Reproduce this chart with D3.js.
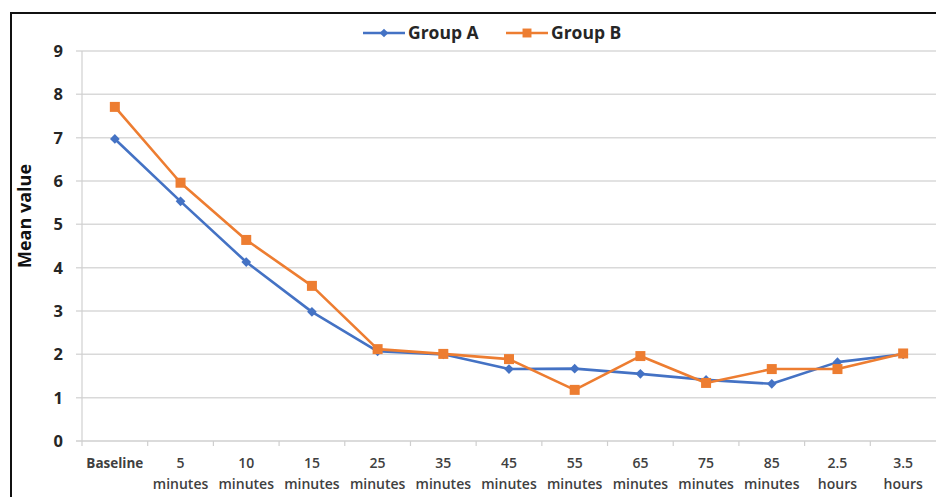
<!DOCTYPE html>
<html>
<head>
<meta charset="utf-8">
<script src="https://cdn.jsdelivr.net/npm/d3@7"></script>
<style>
  body { margin: 0; background: #fff; }
  svg { display: block; }
</style>
</head>
<body>
<figure style="margin:0"></figure>
<script>
const categories = [
  ["Baseline"], ["5", "minutes"], ["10", "minutes"], ["15", "minutes"],
  ["25", "minutes"], ["35", "minutes"], ["45", "minutes"], ["55", "minutes"],
  ["65", "minutes"], ["75", "minutes"], ["85", "minutes"], ["2.5", "hours"],
  ["3.5", "hours"],
];
const groupA = [6.97, 5.53, 4.13, 2.98, 2.07, 2.0, 1.66, 1.67, 1.55, 1.41, 1.32, 1.82, 2.0];
const groupB = [7.71, 5.96, 4.64, 3.58, 2.12, 2.01, 1.89, 1.18, 1.96, 1.34, 1.66, 1.66, 2.02];
const yTicks = [0, 1, 2, 3, 4, 5, 6, 7, 8, 9];

const series = [
  { name: "Group A", values: groupA, color: "#4472C4", marker: d3.symbolDiamond2, size: 60 },
  { name: "Group B", values: groupB, color: "#ED7D31", marker: d3.symbolSquare, size: 100 },
];

const width = 936;
const height = 497;
const font = "'Open Sans', sans-serif";
const textColor = "#404040";

const svg = d3.select("figure").append("svg")
  .attr("width", width).attr("height", height);

// outer frame (only left and top edges are in view)
svg.append("path")
  .attr("d", `M11,${height} V13 H${width}`)
  .attr("fill", "none")
  .attr("stroke", "#111")
  .attr("stroke-width", 2);

const x = d3.scaleBand()
  .domain(d3.range(categories.length))
  .range([82, 936]);
const y = d3.scaleLinear().domain([0, 9]).range([441, 51]);

// gridlines
svg.append("g")
  .selectAll("line")
  .data(yTicks.filter((d) => d > 0))
  .join("line")
  .attr("x1", 76).attr("x2", width)
  .attr("y1", (d) => y(d)).attr("y2", (d) => y(d))
  .attr("stroke", "#d9d9d9")
  .attr("stroke-width", 1.5);

// y axis line
svg.append("line")
  .attr("x1", 82).attr("x2", 82)
  .attr("y1", y(9)).attr("y2", y(0))
  .attr("stroke", "#d0d0d0").attr("stroke-width", 1.2);

// x axis
const xAxis = svg.append("g")
  .attr("transform", `translate(0,${y(0)})`)
  .call(d3.axisBottom(x).tickSize(0).tickFormat(""));
xAxis.select(".domain").attr("d", `M76,0H${width}`)
  .attr("stroke", "#cfcfcf").attr("stroke-width", 1.5);

// category separator ticks
svg.append("g")
  .selectAll("line")
  .data(d3.range(categories.length))
  .join("line")
  .attr("x1", (i) => x(i)).attr("x2", (i) => x(i))
  .attr("y1", y(0)).attr("y2", y(0) + 5)
  .attr("stroke", "#cfcfcf").attr("stroke-width", 1.2);

// x tick labels
svg.append("g")
  .selectAll("text")
  .data(categories)
  .join("text")
  .attr("x", (_, i) => x(i) + x.bandwidth() / 2)
  .attr("y", 468)
  .attr("text-anchor", "middle")
  .attr("font-family", font)
  .attr("font-weight", 600)
  .attr("font-size", 14)
  .attr("fill", textColor)
  .each(function (lines) {
    const t = d3.select(this);
    lines.forEach((line, j) => {
      t.append("tspan")
        .attr("x", t.attr("x"))
        .attr("dy", j === 0 ? 0 : 21)
        .attr("font-size", lines.length === 1 ? 13.5 : 14)
        .attr("font-weight", lines.length === 1 ? "bold" : 600)
        .text(line);
    });
  });

// y tick labels
svg.append("g")
  .selectAll("text")
  .data(yTicks)
  .join("text")
  .attr("x", 63)
  .attr("y", (d) => y(d) + 6)
  .attr("text-anchor", "end")
  .attr("font-family", font)
  .attr("font-weight", "bold")
  .attr("font-size", 16.5)
  .attr("fill", "#262626")
  .text((d) => d);

// y axis title
svg.append("text")
  .attr("transform", `translate(31,216) rotate(-90)`)
  .attr("text-anchor", "middle")
  .attr("font-family", font)
  .attr("font-weight", "bold")
  .attr("font-size", 18)
  .attr("fill", "#111")
  .text("Mean value");

// lines and markers
const line = d3.line()
  .x((_, i) => x(i) + x.bandwidth() / 2)
  .y((d) => y(d));

series.forEach((s) => {
  svg.append("path")
    .datum(s.values)
    .attr("d", line)
    .attr("fill", "none")
    .attr("stroke", s.color)
    .attr("stroke-width", 2.6)
    .attr("stroke-linejoin", "round");

  svg.append("g")
    .selectAll("path")
    .data(s.values)
    .join("path")
    .attr("transform", (d, i) => `translate(${x(i) + x.bandwidth() / 2},${y(d)})`)
    .attr("d", d3.symbol(s.marker, s.size))
    .attr("fill", s.color);
});

// legend
const legendX = [363, 506];
const legend = svg.append("g")
  .selectAll("g")
  .data(series)
  .join("g")
  .attr("transform", (_, i) => `translate(${legendX[i]},33)`);

legend.append("line")
  .attr("x1", 0).attr("x2", 42)
  .attr("stroke", (d) => d.color)
  .attr("stroke-width", 2.6);
legend.append("path")
  .attr("transform", "translate(21,0)")
  .attr("d", (d) => d3.symbol(d.marker, d.size * 0.8)())
  .attr("fill", (d) => d.color);
legend.append("text")
  .attr("x", 45)
  .attr("y", 6)
  .attr("font-family", font)
  .attr("font-weight", "bold")
  .attr("font-size", 17.5)
  .attr("fill", "#262626")
  .text((d) => d.name);
</script>
</body>
</html>
